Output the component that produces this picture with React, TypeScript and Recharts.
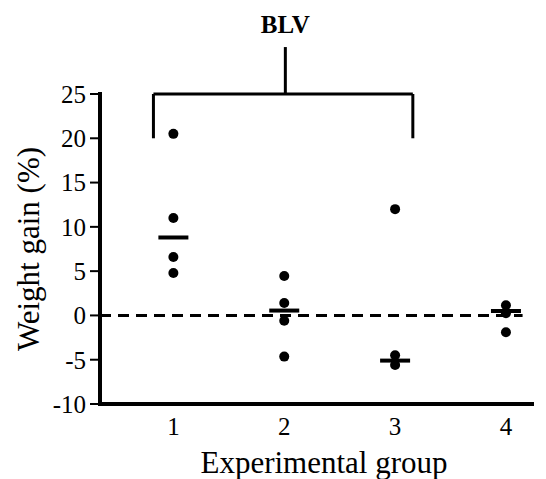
import { ScatterChart, Scatter, XAxis, YAxis, ReferenceLine } from "recharts"

// group numbers and each group's individual weight gains (%)
const groups = [1, 2, 3, 4]
const group1 = [20.5, 11.0, 6.6, 4.8]
const group2 = [4.45, 1.4, -0.6, -4.65]
const group3 = [12.0, -4.5, -5.6]
const group4 = [1.15, 0.25, -1.9]
const medians = [8.8, 0.55, -5.1, 0.5]

const yTicks = [-10, -5, 0, 5, 10, 15, 20, 25]

// bracket over the BLV groups (1 to 3)
const bracketLeft = 0.82
const bracketRight = 3.16
const bracketMid = 2.01
const bracketTop = 25
const bracketFoot = 20
const bracketStem = 30.3

const font = "Liberation Serif"

const points = [group1, group2, group3, group4].flatMap((vals, i) =>
  vals.map((v) => ({ x: groups[i], y: v }))
)
const medianData = medians.map((m, i) => ({ x: groups[i], y: m }))

const Dot = (props: any) => <circle cx={props.cx} cy={props.cy} r={5} fill="#000" />
const Bar = (props: any) => (
  <line x1={props.cx - 15} x2={props.cx + 15} y1={props.cy} y2={props.cy} stroke="#000" strokeWidth={4} />
)

const seg = (a: [number, number], b: [number, number]) => [
  { x: a[0], y: a[1] },
  { x: b[0], y: b[1] },
]

export default function App() {
  return (
    <div style={{ position: "absolute", left: 0, top: 0, background: "#fff" }}>
      <style>{"svg text, svg tspan { font-family: 'Liberation Serif', serif !important; }"}</style>
      <ScatterChart
        width={546}
        height={479}
        margin={{ top: 94, right: 14, left: 0, bottom: 0 }}
      >
        <XAxis
          type="number"
          dataKey="x"
          domain={[0.338, 4.235]}
          ticks={groups}
          allowDataOverflow
          height={75}
          axisLine={{ stroke: "#000", strokeWidth: 4, strokeLinecap: "square" }}
          tickLine={false}
          tickSize={0}
          tickMargin={13}
          tick={{ fill: "#000", fontSize: 25, fontFamily: font }}
          label={{
            value: "Experimental group",
            position: "insideBottom",
            offset: 6,
            dx: 8,
            fill: "#000",
            fontSize: 31,
            fontFamily: font,
          }}
        />
        <YAxis
          type="number"
          dataKey="y"
          domain={[-10, 25]}
          ticks={yTicks}
          allowDataOverflow
          width={100}
          axisLine={{ stroke: "#000", strokeWidth: 4, strokeLinecap: "square" }}
          tickLine={{ stroke: "#000", strokeWidth: 2 }}
          tickSize={10}
          tickMargin={4}
          tick={{ fill: "#000", fontSize: 25, fontFamily: font }}
          label={{
            value: "Weight gain (%)",
            angle: -90,
            position: "insideLeft",
            offset: 28,
            textAnchor: "middle",
            fill: "#000",
            fontSize: 31,
            fontFamily: font,
          }}
        />
        <ReferenceLine
          segment={seg([0.338, 0], [4.15, 0])}
          stroke="#000"
          strokeWidth={3}
          strokeDasharray="11 7"
        />
        <ReferenceLine segment={seg([bracketLeft, bracketFoot], [bracketLeft, bracketTop])} stroke="#000" strokeWidth={3} ifOverflow="visible" />
        <ReferenceLine segment={seg([bracketRight, bracketFoot], [bracketRight, bracketTop])} stroke="#000" strokeWidth={3} ifOverflow="visible" />
        <ReferenceLine segment={seg([bracketLeft, bracketTop], [bracketRight, bracketTop])} stroke="#000" strokeWidth={3} ifOverflow="visible" />
        <ReferenceLine
          segment={seg([bracketMid, bracketTop], [bracketMid, bracketStem])}
          stroke="#000"
          strokeWidth={3}
          ifOverflow="visible"
          label={{
            value: "BLV",
            position: "top",
            offset: 14,
            fill: "#000",
            fontSize: 25,
            fontWeight: "bold",
            fontFamily: font,
          }}
        />
        <Scatter data={points} shape={Dot} isAnimationActive={false} />
        <Scatter data={medianData} shape={Bar} isAnimationActive={false} />
      </ScatterChart>
    </div>
  )
}
